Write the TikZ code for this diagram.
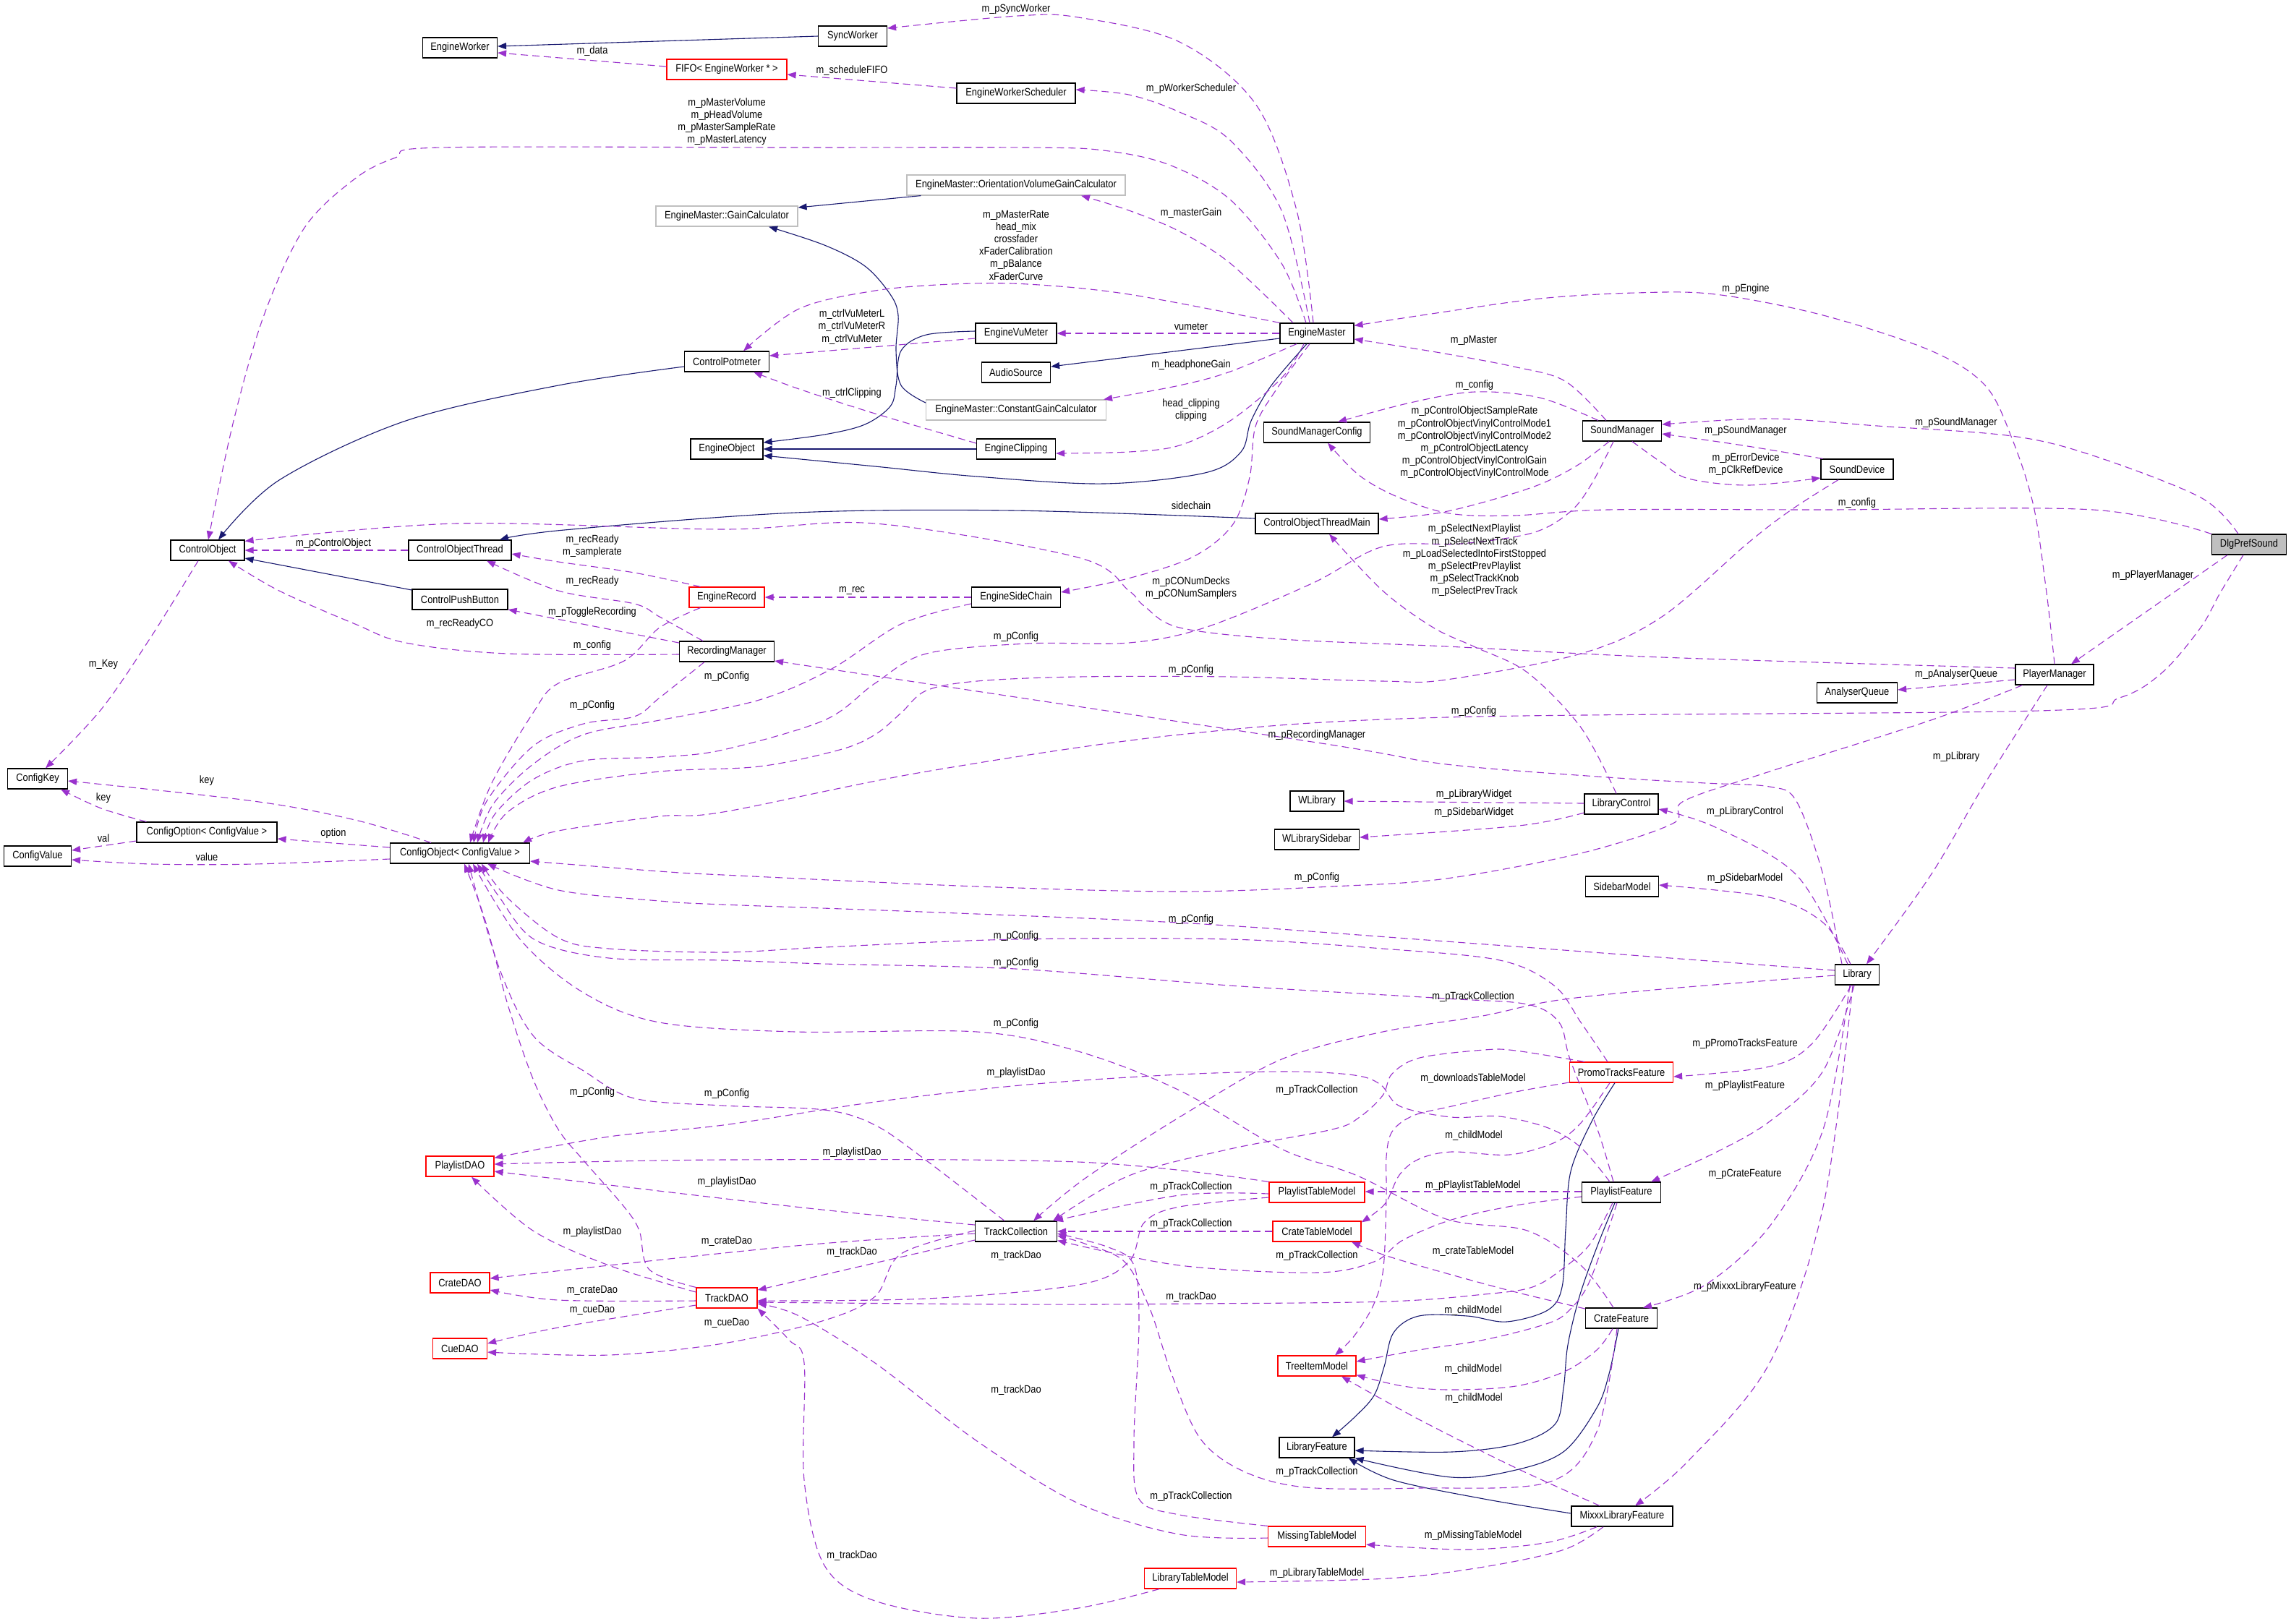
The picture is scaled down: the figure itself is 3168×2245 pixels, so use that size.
\documentclass[tikz,border=0pt]{standalone}
\usepackage{fontspec}
\usetikzlibrary{arrows.meta}
\newfontfamily\dfont{Liberation Sans}[FakeStretch=0.87]
\newcommand\lab{\dfont\fontsize{7.4}{8.6}\selectfont}
\definecolor{orch}{HTML}{9A32CD}
\definecolor{navyc}{HTML}{191970}
\definecolor{boxgray}{HTML}{BFBFBF}
\tikzset{
  cls/.style={draw=black, line width=0.6pt, minimum height=14pt, inner xsep=0pt, inner ysep=0pt, font=\lab, fill=white},
  rcls/.style={cls, draw=red},
  gcls/.style={cls, draw=boxgray},
  inh/.style={draw=navyc, line width=0.55pt, -{Triangle[length=6pt,width=4.5pt]}, smooth, tension=0.55},
  usg/.style={draw=orch, line width=0.55pt, dash pattern=on 5pt off 3pt, -{Triangle[length=6pt,width=4.5pt]}, smooth, tension=0.55},
  lb/.style={font=\lab, align=center, inner sep=0pt},
}
\begin{document}
\begin{tikzpicture}[x=0.5pt,y=-0.5pt]
\fill[white] (0,0) rectangle (3168,2245);
\useasboundingbox (0,0) rectangle (3168,2245);
% ---------------- nodes
\node[cls,minimum width=51.5pt] (EW) at (636,66) {EngineWorker};
\node[cls,minimum width=47.5pt] (SW) at (1179,50) {SyncWorker};
\node[rcls,minimum width=83pt] (FIFO) at (1005,96) {FIFO< EngineWorker * >};
\node[cls,minimum width=82pt] (EWS) at (1405,129) {EngineWorkerScheduler};
\node[gcls,minimum width=98pt] (GC) at (1005,299) {EngineMaster::GainCalculator};
\node[gcls,minimum width=151pt] (OVGC) at (1405,256) {EngineMaster::OrientationVolumeGainCalculator};
\node[cls,minimum width=58.5pt] (CP) at (1005,500) {ControlPotmeter};
\node[cls,minimum width=56pt] (EVM) at (1405,461) {EngineVuMeter};
\node[cls,minimum width=51pt] (EM) at (1821,461) {EngineMaster};
\node[cls,minimum width=47.5pt] (AS) at (1405,515) {AudioSource};
\node[gcls,minimum width=124.5pt] (CGC) at (1405,567) {EngineMaster::ConstantGainCalculator};
\node[cls,minimum width=50pt] (EO) at (1005,621) {EngineObject};
\node[cls,minimum width=54.5pt] (EC) at (1405,621) {EngineClipping};
\node[cls,minimum width=73.5pt] (SMC) at (1821,598) {SoundManagerConfig};
\node[cls,minimum width=54.5pt] (SM) at (2243,596) {SoundManager};
\node[cls,minimum width=50pt] (SD) at (2568,649) {SoundDevice};
\node[cls,minimum width=85pt] (COTM) at (1821,724) {ControlObjectThreadMain};
\node[cls,fill=boxgray,minimum width=51.5pt] (DPS) at (3110,753) {DlgPrefSound};
\node[cls,minimum width=51pt] (CO) at (287,761) {ControlObject};
\node[cls,minimum width=71pt] (COT) at (636,761) {ControlObjectThread};
\node[cls,minimum width=66pt] (CPB) at (636,829) {ControlPushButton};
\node[rcls,minimum width=52pt] (ER) at (1005,826) {EngineRecord};
\node[cls,minimum width=61.5pt] (ESC) at (1405,826) {EngineSideChain};
\node[cls,minimum width=65.5pt] (RM) at (1005,901) {RecordingManager};
\node[cls,minimum width=54pt] (PM) at (2841,933) {PlayerManager};
\node[cls,minimum width=55.5pt] (AQ) at (2568,958) {AnalyserQueue};
\node[cls,minimum width=41.5pt] (CK) at (52,1077) {ConfigKey};
\node[cls,minimum width=97pt] (COpt) at (286,1151) {ConfigOption< ConfigValue >};
\node[cls,minimum width=46.5pt] (CV) at (52,1184) {ConfigValue};
\node[cls,minimum width=96.5pt] (COBJ) at (636,1180) {ConfigObject< ConfigValue >};
\node[cls,minimum width=37pt] (WL) at (1821,1108) {WLibrary};
\node[cls,minimum width=51pt] (LC) at (2242,1112) {LibraryControl};
\node[cls,minimum width=58.5pt] (WLS) at (1821,1161) {WLibrarySidebar};
\node[cls,minimum width=50.5pt] (SBM) at (2243,1226) {SidebarModel};
\node[cls,minimum width=30.5pt] (LIB) at (2568,1348) {Library};
\node[rcls,minimum width=71.5pt] (PTF) at (2242,1483) {PromoTracksFeature};
\node[rcls,minimum width=47pt] (PDAO) at (636,1613) {PlaylistDAO};
\node[rcls,minimum width=66pt] (PTM) at (1821,1649) {PlaylistTableModel};
\node[cls,minimum width=54.5pt] (PF) at (2242,1649) {PlaylistFeature};
\node[cls,minimum width=56.5pt] (TC) at (1405,1703) {TrackCollection};
\node[rcls,minimum width=61pt] (CTM) at (1821,1703) {CrateTableModel};
\node[rcls,minimum width=41pt] (CDAO) at (636,1774) {CrateDAO};
\node[rcls,minimum width=42pt] (TDAO) at (1005,1795) {TrackDAO};
\node[cls,minimum width=49.5pt] (CF) at (2242,1823) {CrateFeature};
\node[rcls,minimum width=37.5pt] (CueDAO) at (636,1865) {CueDAO};
\node[rcls,minimum width=54pt] (TIM) at (1821,1889) {TreeItemModel};
\node[cls,minimum width=52pt] (LF) at (1821,2002) {LibraryFeature};
\node[cls,minimum width=70pt] (MLF) at (2243,2097) {MixxxLibraryFeature};
\node[rcls,minimum width=67.5pt] (MTM) at (1821,2125) {MissingTableModel};
\node[rcls,minimum width=63.5pt] (LTM) at (1646,2183) {LibraryTableModel};
% ---------------- inheritance
\draw[inh] (SW.west) -- ([yshift=1pt]EW.east);
\draw[inh] ([xshift=10pt]OVGC.south west) -- ([yshift=6pt]GC.east);
\draw[inh] plot coordinates {([yshift=5pt]CGC.west) (1246,533) (1239,485) (1242,436) (1231,407) (1196,368) (1140,339) ([xshift=29pt]GC.south)};
\draw[inh] plot coordinates {([yshift=-3.5pt]CP.west) (772,533) (561,582) (386,664) ([xshift=7.5pt]CO.north)};
\draw[inh] plot coordinates {([yshift=1.5pt]EVM.west) (1281,463) (1246,485) (1239,533) (1231,562) (1196,587) (1140,601) ([yshift=4.5pt]EO.east)};
\draw[inh] (EC.west) -- (EO.east);
\draw[inh] plot coordinates {([xshift=-7pt]EM.south) (1758,533) (1730,582) (1716,625) (1666,654) (1526,669) (1351,659) (1210,645) ([yshift=-4.5pt]EO.east)};
\draw[inh] ([yshift=-3.5pt]EM.west) -- ([yshift=4pt]AS.east);
\draw[inh] plot coordinates {([yshift=3.5pt]COTM.west) (1400,706) (1100,709) (780,733) ([xshift=27.5pt]COT.north)};
\draw[inh] ([yshift=6.5pt]CPB.west) -- ([yshift=-5.5pt]CO.east);
\draw[inh] plot coordinates {([xshift=-4.5pt]PTF.south) (2201,1551) (2172,1620) (2165,1700) (2160,1780) (2140,1812) (2083,1828) (2029,1820) (1962,1820) (1927,1843) (1914,1890) (1900,1930) (1873,1960) ([xshift=10.5pt]LF.north)};
\draw[inh] plot coordinates {([xshift=-4.5pt]PF.south) (2210,1720) (2185,1790) (2168,1860) (2162,1920) (2150,1970) (2096,1997) (2007,2008) ([yshift=-2pt]LF.east)};
\draw[inh] plot coordinates {([xshift=-2pt]CF.south) (2225,1900) (2208,1947) (2163,2007) (2096,2033) (2007,2043) (LF.south east)};
\draw[inh] plot coordinates {([yshift=2pt]MLF.west) (2052,2073) (1927,2047) ([xshift=22pt]LF.south)};
% ---------------- usage: engine area
\draw[usg] ([yshift=2pt]FIFO.west) -- ([yshift=-3.5pt]EW.east);
\draw[usg] ([yshift=3.5pt]EWS.west) -- ([yshift=-3.5pt]FIFO.east);
\draw[usg] plot coordinates {([xshift=-2.5pt]EM.north) (1793,291) (1737,145) (1631,58) (1491,24) (1407,22) ([yshift=5.5pt]SW.east)};
\draw[usg] plot coordinates {([xshift=-5pt]EM.north) (1772,291) (1701,194) (1631,155) (1561,131) ([yshift=2.5pt]EWS.east)};
\draw[usg] plot coordinates {([xshift=-7.5pt]EM.north) (1772,364) (1701,276) (1617,228) (1526,208) (1421,204) (1100,204) (610,204) (547,218) (491,247) (421,315) (365,436) (323,582) ([xshift=0.5pt]CO.north)};
\draw[usg] plot coordinates {([xshift=-16.5pt]EM.north) (1701,364) (1631,320) (1561,291) ([xshift=45pt]OVGC.south)};
\draw[usg] plot coordinates {(EM.north west) (1561,407) (1421,393) (1316,393) (1210,402) (1105,427) ([xshift=11.5pt]CP.north)};
\draw[usg] ([yshift=-3.5pt]EVM.west) -- ([yshift=4pt]CP.east);
\draw[usg] (EM.west) -- (EVM.east);
\draw[usg] plot coordinates {([xshift=-14pt]EM.south) (1701,514) (1631,533) ([xshift=-2pt]CGC.north east)};
\draw[usg] plot coordinates {([yshift=4pt]EC.west) (1210,572) (1105,538) ([xshift=18.5pt]CP.south)};
\draw[usg] plot coordinates {([xshift=-9pt]EM.south) (1772,523) (1701,582) (1631,616) (1561,625) ([yshift=-3pt]EC.east)};
\draw[usg] plot coordinates {([xshift=-5pt]EM.south) (1764,540) (1736,590) (1728,660) (1705,725) (1650,770) (1560,800) ([yshift=3.5pt]ESC.east)};
\draw[usg] (COT.west) -- (CO.east);
\draw[usg] plot coordinates {([xshift=8pt]ER.north west) (877,792) (772,777) ([yshift=-2.5pt]COT.east)};
\draw[usg] plot coordinates {([xshift=-16.5pt]RM.north) (912,853) (877,835) (772,817) ([xshift=18.5pt]COT.south)};
\draw[usg] ([yshift=6pt]RM.west) -- ([yshift=-7pt]CPB.east);
\draw[usg] plot coordinates {([yshift=-2pt]RM.west) (702,904) (561,889) (491,863) (386,817) ([xshift=14.5pt]CO.south)};
\draw[usg] (ESC.west) -- (ER.east);
% ---------------- to ConfigObject
\draw[usg] plot coordinates {([xshift=8pt]ER.south west) (912,868) (863,914) (772,945) (737,986) (680,1083) ([xshift=7pt]COBJ.north)};
\draw[usg] plot coordinates {([xshift=-15.5pt]RM.south) (912,965) (877,991) (807,1001) (737,1032) (673,1108) ([xshift=9.5pt]COBJ.north)};
\draw[usg] plot coordinates {([yshift=-4.5pt]ESC.west) (1246,863) (1150,925) (1050,968) (912,996) (807,1016) (737,1057) (682,1112) ([xshift=12pt]COBJ.north)};
\draw[usg] plot coordinates {([xshift=-6pt]SM.south) (2201,669) (2171,708) (2119,737) (2020,752) (1912,756) (1814,807) (1666,868) (1561,889) (1421,890) (1281,904) (1210,945) (1140,996) (1000,1037) (912,1047) (807,1052) (737,1078) (685,1125) ([xshift=16pt]COBJ.north)};
\draw[usg] plot coordinates {([xshift=-13pt]SD.south) (2477,705) (2417,751) (2298,853) (2186,904) (2000,940) (1912,942) (1701,936) (1491,936) (1351,942) (1281,955) (1246,986) (1210,1016) (1161,1037) (1050,1060) (912,1067) (772,1088) (702,1123) ([xshift=19.5pt]COBJ.north)};
\draw[usg] plot coordinates {([xshift=5pt]PM.south west) (2670,996) (2447,1067) (2328,1108) (2313,1139) (2186,1180) (2000,1215) (1842,1226) (1631,1233) (1351,1226) (1000,1210) (912,1205) ([yshift=-5.5pt]COBJ.east)};
\draw[usg] plot coordinates {([xshift=-4pt]DPS.south) (3070,820) (3043,868) (2990,930) (2931,965) (2819,983) (2000,992) (1631,1016) (1281,1067) (1000,1123) (912,1129) (772,1149) ([xshift=-5pt]COBJ.north east)};
\draw[usg] plot coordinates {([yshift=3pt]LIB.west) (2000,1302) (1647,1277) (1300,1262) (1000,1251) (912,1246) (772,1231) ([xshift=19pt]COBJ.south)};
\draw[usg] plot coordinates {([xshift=-9.5pt]PTF.north) (2186,1414) (2149,1363) (2074,1328) (1912,1312) (1701,1299) (1405,1299) (1140,1310) (1000,1317) (842,1312) (772,1297) (700,1240) ([xshift=15pt]COBJ.south)};
\draw[usg] plot coordinates {([xshift=-5.5pt]PF.north) (2209,1562) (2171,1465) (2156,1414) (2112,1389) (2000,1381) (1701,1363) (1405,1340) (1140,1333) (1000,1328) (842,1325) (740,1300) (690,1240) ([xshift=12pt]COBJ.south)};
\draw[usg] plot coordinates {([xshift=-5.5pt]CF.north) (2186,1750) (2112,1702) (2000,1686) (1877,1626) (1772,1589) (1631,1508) (1491,1454) (1351,1427) (1100,1427) (912,1414) (807,1373) (720,1300) ([xshift=9pt]COBJ.south)};
\draw[usg] plot coordinates {([xshift=-8pt]TC.north) (1281,1605) (1210,1556) (1140,1535) (1000,1529) (877,1519) (807,1481) (737,1432) (690,1338) ([xshift=6pt]COBJ.south)};
\draw[usg] plot coordinates {(TDAO.north west) (898,1756) (884,1702) (863,1669) (807,1605) (772,1562) (737,1492) (702,1389) (670,1270) ([xshift=3pt]COBJ.south)};
% ---------------- config cluster
\draw[usg] plot coordinates {([xshift=-20pt]COBJ.north) (491,1134) (351,1108) ([yshift=-1.5pt]CK.east)};
\draw[usg] plot coordinates {([xshift=7pt]COpt.north west) (140,1118) ([xshift=16pt]CK.south)};
\draw[usg] ([yshift=-6pt]COpt.west) -- ([yshift=4pt]CV.east);
\draw[usg] ([yshift=4pt]COBJ.west) -- ([yshift=-4.5pt]COpt.east);
\draw[usg] plot coordinates {([yshift=-4pt]COBJ.west) (351,1195) (210,1195) ([yshift=-2.5pt]CV.east)};
\draw[usg] plot coordinates {([xshift=-6.5pt]CO.south) (210,879) (140,981) ([xshift=5.5pt]CK.north)};
% ---------------- sound / player
\draw[usg] plot coordinates {([xshift=-11pt]SM.north) (2164,527) (2093,507) (1986,487) ([yshift=-4pt]EM.east)};
\draw[usg] plot coordinates {(PM.north) (2830,820) (2812,700) (2782,606) (2745,533) (2670,485) (2521,436) (2372,407) (2261,405) (2129,413) (1986,433) ([yshift=-2pt]EM.north east)};
\draw[usg] plot coordinates {([xshift=-7.5pt]DPS.north) (3043,688) (2894,630) (2782,603) (2596,589) (2447,579) ([yshift=4.5pt]SM.east)};
\draw[usg] plot coordinates {([xshift=1.5pt]SD.north west) (2410,616) ([yshift=-2pt]SM.east)};
\draw[usg] plot coordinates {([xshift=7pt]SM.south) (2298,640) (2335,662) (2417,671) ([yshift=-6pt]SD.west)};
\draw[usg] plot coordinates {([xshift=11pt]SM.north west) (2129,550) (2039,542) (1950,557) ([xshift=14.5pt]SMC.north)};
\draw[usg] plot coordinates {([xshift=-9pt]SM.south) (2182,643) (2129,670) (2057,693) (1986,710) ([yshift=3pt]COTM.east)};
\draw[usg] plot coordinates {(DPS.north west) (2894,705) (2521,705) (2223,705) (2093,713) (2004,710) (1932,687) (1879,657) ([xshift=7.5pt]SMC.south)};
\draw[usg] plot coordinates {([xshift=-3.5pt]LC.north) (2186,1006) (2112,930) (2040,895) (1982,868) (1912,817) ([xshift=8.5pt]COTM.south)};
\draw[usg] plot coordinates {([yshift=4.5pt]PM.west) (2298,909) (2000,894) (1772,884) (1631,868) (1582,838) (1561,817) (1491,771) (1210,724) (1000,732) (631,724) ([yshift=-1pt]CO.north east)};
\draw[usg] ([xshift=-15pt]DPS.south) -- ([xshift=11.5pt]PM.north);
\draw[usg] ([yshift=-3.5pt]PM.west) -- ([yshift=2pt]AQ.east);
\draw[usg] plot coordinates {([xshift=-5pt]PM.south) (2745,1083) (2670,1210) ([xshift=6.5pt]LIB.north)};
% ---------------- library
\draw[usg] plot coordinates {([xshift=-10.5pt]LIB.north) (2521,1210) (2484,1108) (2447,1088) (2358,1083) (2223,1075) (2000,1057) (1821,1027) ([yshift=-6.5pt]RM.east)};
\draw[usg] plot coordinates {([xshift=-6.5pt]LIB.north) (2484,1210) (2372,1144) ([yshift=-3.5pt]LC.east)};
\draw[usg] ([yshift=0.5pt]LC.west) -- (WL.east);
\draw[usg] plot coordinates {([yshift=-6pt]LC.west) (2100,1142) ([yshift=1.5pt]WLS.east)};
\draw[usg] plot coordinates {([xshift=-4.5pt]LIB.north) (2521,1276) (2447,1241) ([yshift=1pt]SBM.east)};
\draw[usg] plot coordinates {([yshift=-0.5pt]LIB.west) (2298,1368) (2149,1384) (2050,1405) (1912,1427) (1772,1465) (1631,1545) (1500,1630) ([xshift=12pt]TC.north)};
\draw[usg] plot coordinates {([xshift=-4pt]LIB.south) (2506,1443) (2447,1475) ([yshift=-3pt]PTF.east)};
\draw[usg] plot coordinates {([xshift=-2pt]LIB.south) (2521,1481) (2447,1551) (2372,1594) ([xshift=20.5pt]PF.north)};
\draw[usg] plot coordinates {([xshift=-5pt]LIB.south) (2521,1562) (2447,1696) (2358,1777) ([xshift=15pt]CF.north)};
\draw[usg] plot coordinates {([xshift=-3pt]LIB.south) (2521,1669) (2447,1885) (2335,2020) ([xshift=9pt]MLF.north)};
% ---------------- lower area
\draw[usg] plot coordinates {([xshift=-8pt]PF.north) (2186,1587) (2141,1560) (2074,1544) (2007,1545) (1936,1530) (1909,1500) (1873,1487) (1784,1482) (1631,1486) (1421,1500) (1210,1524) (1000,1556) (842,1572) ([yshift=-1.5pt]PDAO.north east)};
\draw[usg] plot coordinates {(PTM.north west) (1491,1607) (1000,1604) ([yshift=1.5pt]PDAO.east)};
\draw[usg] plot coordinates {([yshift=4.5pt]TC.west) (1100,1669) ([yshift=-3.5pt]PDAO.east)};
\draw[usg] plot coordinates {([yshift=4pt]TDAO.west) (842,1750) (737,1702) ([xshift=8pt]PDAO.south)};
\draw[usg] plot coordinates {([yshift=-1.5pt]TC.west) (1100,1723) ([yshift=3pt]CDAO.east)};
\draw[usg] plot coordinates {([yshift=-2pt]TDAO.west) (772,1798) ([yshift=-5pt]CDAO.east)};
\draw[usg] plot coordinates {([yshift=-5pt]TDAO.west) (772,1836) ([yshift=3.5pt]CueDAO.east)};
\draw[usg] plot coordinates {([yshift=0.5pt]TC.west) (1246,1734) (1210,1793) (1140,1826) (1000,1858) (842,1874) ([yshift=-2.5pt]CueDAO.east)};
\draw[usg] ([yshift=-6pt]TC.west) -- ([yshift=5.5pt]TDAO.east);
\draw[usg] plot coordinates {([yshift=-1pt]PTM.west) (1631,1653) ([xshift=-2pt]TC.north east)};
\draw[usg] (CTM.west) -- (TC.east);
\draw[usg] plot coordinates {([yshift=-3.5pt]PTM.west) (1631,1669) (1582,1691) (1561,1745) (1491,1777) (1281,1796) ([yshift=-2pt]TDAO.east)};
\draw[usg] plot coordinates {([yshift=-3pt]PF.west) (2096,1667) (2007,1687) (1940,1715) (1900,1745) (1820,1760) (1631,1750) ([yshift=1pt]TC.south east)};
\draw[usg] ([yshift=0.5pt]PF.west) -- ([yshift=0.5pt]PTM.east);
\draw[usg] plot coordinates {([xshift=-6pt]PF.south) (2199,1720) (2163,1753) (2119,1780) (2052,1790) (1918,1800) (1650,1803) (1421,1804) ([yshift=-3pt]TDAO.east)};
\draw[usg] plot coordinates {([yshift=6.5pt]CF.west) (2096,1787) (2007,1763) (1918,1737) ([xshift=24pt]CTM.south)};
\draw[usg] plot coordinates {([xshift=10.5pt]PTF.north west) (2096,1453) (2052,1452) (1963,1463) (1925,1485) (1912,1515) (1880,1545) (1842,1562) (1701,1589) (1561,1626) ([xshift=25.5pt]TC.north)};
\draw[usg] plot coordinates {([yshift=-7pt]PTF.west) (2096,1510) (2007,1530) (1954,1543) (1925,1565) (1917,1600) (1917,1653) (1913,1753) (1900,1803) (1873,1847) ([xshift=12.5pt]TIM.north)};
\draw[usg] plot coordinates {([xshift=-8pt]PTF.south) (2186,1553) (2150,1580) (2087,1597) (2007,1593) (1962,1603) (1935,1625) (1915,1665) ([yshift=-1pt]CTM.north east)};
\draw[usg] plot coordinates {([xshift=-3pt]PF.south) (2199,1770) (2172,1810) (2141,1830) (2052,1853) (1962,1867) ([yshift=3pt]TIM.east)};
\draw[usg] plot coordinates {([xshift=-6pt]CF.south) (2208,1867) (2163,1897) (2096,1917) (2007,1922) (1940,1917) ([yshift=1pt]TIM.south east)};
\draw[usg] plot coordinates {([xshift=-15.5pt]MLF.north) (2096,2030) (1962,1963) ([xshift=17pt]TIM.south)};
\draw[usg] plot coordinates {([xshift=-3pt]CF.south) (2208,1980) (2141,2050) (1962,2058) (1806,2057) (1720,2035) (1660,1990) (1620,1900) (1590,1810) (1555,1745) (1500,1720) ([yshift=-3pt]TC.east)};
\draw[usg] plot coordinates {(MTM.north west) (1631,2095) (1575,2073) (1568,1993) (1575,1831) (1568,1750) (1533,1725) ([yshift=-1.5pt]TC.east)};
\draw[usg] plot coordinates {([yshift=-1pt]MTM.west) (1631,2122) (1491,2079) (1351,1993) (1210,1885) (1105,1820) ([yshift=-4pt]TDAO.east)};
\draw[usg] plot coordinates {([xshift=-21.5pt]LTM.south) (1491,2224) (1351,2238) (1210,2214) (1140,2165) (1112,2047) (1112,1885) (1091,1853) (TDAO.south east)};
\draw[usg] plot coordinates {([xshift=-17.5pt]MLF.south) (2141,2133) (2029,2143) ([yshift=-5.5pt]MTM.east)};
\draw[usg] plot coordinates {([xshift=-13pt]MLF.south) (2163,2143) (2052,2167) (1918,2183) ([yshift=-2.5pt]LTM.east)};
% ---------------- labels
\node[lb] (l1) at (819,71) {m\_data};
\node[lb] (l2) at (1178,98) {m\_scheduleFIFO};
\node[lb] (l3) at (1405,13) {m\_pSyncWorker};
\node[lb] (l4) at (1647,123) {m\_pWorkerScheduler};
\node[lb] (l5) at (1005,168) {m\_pMasterVolume\\m\_pHeadVolume\\m\_pMasterSampleRate\\m\_pMasterLatency};
\node[lb] (l6) at (1647,295) {m\_masterGain};
\node[lb] (l7) at (1405,339) {m\_pMasterRate\\head\_mix\\crossfader\\xFaderCalibration\\m\_pBalance\\xFaderCurve};
\node[lb] (l8) at (1178,452) {m\_ctrlVuMeterL\\m\_ctrlVuMeterR\\m\_ctrlVuMeter};
\node[lb] (l9) at (1647,452) {vumeter};
\node[lb] (l10) at (1647,505) {m\_headphoneGain};
\node[lb] (l11) at (1178,544) {m\_ctrlClipping};
\node[lb] (l12) at (1647,567) {head\_clipping\\clipping};
\node[lb] (l13) at (1647,699) {sidechain};
\node[lb] (l14) at (2038,471) {m\_pMaster};
\node[lb] (l15) at (2039,533) {m\_config};
\node[lb] (l16) at (2039,612) {m\_pControlObjectSampleRate\\m\_pControlObjectVinylControlMode1\\m\_pControlObjectVinylControlMode2\\m\_pControlObjectLatency\\m\_pControlObjectVinylControlGain\\m\_pControlObjectVinylControlMode};
\node[lb] (l17) at (2414,400) {m\_pEngine};
\node[lb] (l18) at (2705,585) {m\_pSoundManager};
\node[lb] (l19) at (2414,596) {m\_pSoundManager};
\node[lb] (l20) at (2414,642) {m\_pErrorDevice\\m\_pClkRefDevice};
\node[lb] (l21) at (2568,696) {m\_config};
\node[lb] (l22) at (2977,796) {m\_pPlayerManager};
\node[lb] (l23) at (2039,775) {m\_pSelectNextPlaylist\\m\_pSelectNextTrack\\m\_pLoadSelectedIntoFirstStopped\\m\_pSelectPrevPlaylist\\m\_pSelectTrackKnob\\m\_pSelectPrevTrack};
\node[lb] (l24) at (1647,813) {m\_pCONumDecks\\m\_pCONumSamplers};
\node[lb] (l25) at (1178,817) {m\_rec};
\node[lb] (l26) at (1405,881) {m\_pConfig};
\node[lb] (l27) at (1647,927) {m\_pConfig};
\node[lb] (l28) at (2038,984) {m\_pConfig};
\node[lb] (l29) at (1821,1017) {m\_pRecordingManager};
\node[lb] (l30) at (2705,933) {m\_pAnalyserQueue};
\node[lb] (l31) at (2705,1047) {m\_pLibrary};
\node[lb] (l32) at (2038,1099) {m\_pLibraryWidget};
\node[lb] (l33) at (2038,1124) {m\_pSidebarWidget};
\node[lb] (l34) at (2413,1123) {m\_pLibraryControl};
\node[lb] (l35) at (2413,1215) {m\_pSidebarModel};
\node[lb] (l36) at (1821,1214) {m\_pConfig};
\node[lb] (l37) at (1647,1272) {m\_pConfig};
\node[lb] (l38) at (1405,1295) {m\_pConfig};
\node[lb] (l39) at (1405,1332) {m\_pConfig};
\node[lb] (l40) at (2037,1379) {m\_pTrackCollection};
\node[lb] (l41) at (1405,1416) {m\_pConfig};
\node[lb] (l42) at (2413,1444) {m\_pPromoTracksFeature};
\node[lb] (l43) at (1405,1484) {m\_playlistDao};
\node[lb] (l44) at (2037,1492) {m\_downloadsTableModel};
\node[lb] (l45) at (2413,1502) {m\_pPlaylistFeature};
\node[lb] (l46) at (1821,1508) {m\_pTrackCollection};
\node[lb] (l47) at (819,1511) {m\_pConfig};
\node[lb] (l48) at (1005,1513) {m\_pConfig};
\node[lb] (l49) at (2038,1571) {m\_childModel};
\node[lb] (l50) at (1178,1594) {m\_playlistDao};
\node[lb] (l51) at (2413,1624) {m\_pCrateFeature};
\node[lb] (l52) at (1005,1635) {m\_playlistDao};
\node[lb] (l53) at (2037,1640) {m\_pPlaylistTableModel};
\node[lb] (l54) at (1647,1642) {m\_pTrackCollection};
\node[lb] (l55) at (1647,1693) {m\_pTrackCollection};
\node[lb] (l56) at (819,1704) {m\_playlistDao};
\node[lb] (l57) at (1005,1717) {m\_crateDao};
\node[lb] (l58) at (2037,1731) {m\_crateTableModel};
\node[lb] (l59) at (1178,1732) {m\_trackDao};
\node[lb] (l60) at (1405,1737) {m\_trackDao};
\node[lb] (l61) at (1821,1737) {m\_pTrackCollection};
\node[lb] (l62) at (2413,1780) {m\_pMixxxLibraryFeature};
\node[lb] (l63) at (819,1785) {m\_crateDao};
\node[lb] (l64) at (1647,1794) {m\_trackDao};
\node[lb] (l65) at (819,1812) {m\_cueDao};
\node[lb] (l66) at (2037,1813) {m\_childModel};
\node[lb] (l67) at (1005,1830) {m\_cueDao};
\node[lb] (l68) at (2037,1894) {m\_childModel};
\node[lb] (l69) at (1405,1923) {m\_trackDao};
\node[lb] (l70) at (2038,1934) {m\_childModel};
\node[lb] (l71) at (1821,2036) {m\_pTrackCollection};
\node[lb] (l72) at (1647,2070) {m\_pTrackCollection};
\node[lb] (l73) at (2037,2124) {m\_pMissingTableModel};
\node[lb] (l74) at (1178,2152) {m\_trackDao};
\node[lb] (l75) at (1821,2176) {m\_pLibraryTableModel};
\node[lb] (l76) at (461,752) {m\_pControlObject};
\node[lb] (l77) at (819,755) {m\_recReady\\m\_samplerate};
\node[lb] (l78) at (819,804) {m\_recReady};
\node[lb] (l79) at (819,847) {m\_pToggleRecording};
\node[lb] (l80) at (636,863) {m\_recReadyCO};
\node[lb] (l81) at (819,893) {m\_config};
\node[lb] (l82) at (1005,936) {m\_pConfig};
\node[lb] (l83) at (819,976) {m\_pConfig};
\node[lb] (l84) at (143,919) {m\_Key};
\node[lb] (l85) at (286,1080) {key};
\node[lb] (l86) at (143,1104) {key};
\node[lb] (l87) at (143,1159) {val};
\node[lb] (l88) at (461,1153) {option};
\node[lb] (l89) at (286,1185) {value};
\end{tikzpicture}
\end{document}
